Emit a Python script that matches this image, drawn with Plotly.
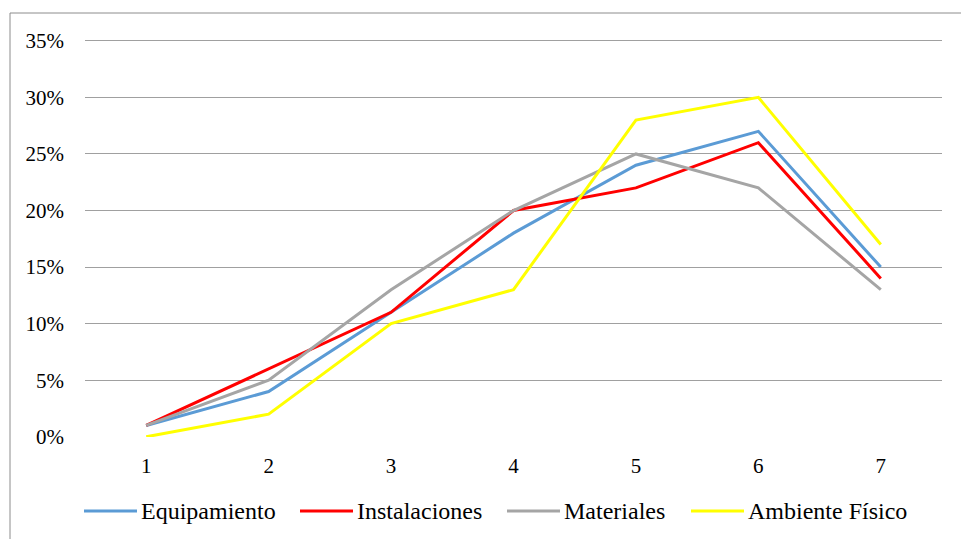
import plotly.graph_objects as go

# Categories on the horizontal axis
categories = ["1", "2", "3", "4", "5", "6", "7"]

# Percentage per series (fractions)
equipamiento = [0.01, 0.04, 0.11, 0.18, 0.24, 0.27, 0.15]
instalaciones = [0.01, 0.06, 0.11, 0.20, 0.22, 0.26, 0.14]
materiales = [0.01, 0.05, 0.13, 0.20, 0.25, 0.22, 0.13]
ambiente_fisico = [0.00, 0.02, 0.10, 0.13, 0.28, 0.30, 0.17]

series_names = ["Equipamiento", "Instalaciones", "Materiales", "Ambiente Físico"]
series_values = [equipamiento, instalaciones, materiales, ambiente_fisico]
series_colors = ["#5B9BD5", "#FF0000", "#A5A5A5", "#FFFF00"]

y_ticks = [0, 0.05, 0.10, 0.15, 0.20, 0.25, 0.30, 0.35]
y_tick_text = ["0%", "5%", "10%", "15%", "20%", "25%", "30%", "35%"]

FONT = "Liberation Serif"

W, H = 961, 539
L, R, T, B = 85, 19, 38, 102
PW, PH = W - L - R, H - T - B
Y_TOP = 0.3525  # a little headroom so the 35% grid line is kept


def px_x(x):
    return (x - L) / PW


def px_y(y):
    return (H - B - y) / PH


fig = go.Figure()
for name, vals, color in zip(series_names, series_values, series_colors):
    fig.add_trace(go.Scatter(
        x=categories, y=vals, mode="lines", name=name,
        line=dict(color=color, width=3), showlegend=False,
    ))

shapes = [
    # outer chart frame
    dict(type="rect", xref="paper", yref="paper",
         x0=px_x(10), x1=px_x(W + 20), y0=px_y(H + 20), y1=px_y(13),
         line=dict(color="#8C8C8C", width=1), layer="below"),
]
annotations = []

# legend row below the plot
legend_line_x = [84, 300, 507, 691]
legend_y = 511
for name, color, x0 in zip(series_names, series_colors, legend_line_x):
    shapes.append(dict(type="line", xref="paper", yref="paper",
                       x0=px_x(x0), x1=px_x(x0 + 53),
                       y0=px_y(legend_y), y1=px_y(legend_y),
                       line=dict(color=color, width=3)))
    annotations.append(dict(xref="paper", yref="paper",
                            x=px_x(x0 + 55), y=px_y(legend_y),
                            xanchor="left", yanchor="middle",
                            text=name, showarrow=False,
                            font=dict(family=FONT, size=24, color="#000000")))

fig.update_layout(
    width=W, height=H,
    margin=dict(l=L, r=R, t=T, b=B),
    paper_bgcolor="white", plot_bgcolor="white",
    font=dict(family=FONT, size=20, color="#000000"),
    shapes=shapes, annotations=annotations,
    xaxis=dict(
        type="category", range=[-0.5, 6.5],
        showgrid=False, zeroline=False, showline=False,
        ticks="", ticklabelstandoff=14,
        tickfont=dict(family=FONT, size=21, color="#000000"),
    ),
    yaxis=dict(
        range=[-0.0002, Y_TOP], tickvals=y_ticks, ticktext=y_tick_text,
        showgrid=True, gridcolor="#A0A0A0", gridwidth=1,
        zeroline=False, showline=False,
        ticks="", ticklabelstandoff=20,
        tickfont=dict(family=FONT, size=21, color="#000000"),
    ),
)

fig.write_html("out.html")
